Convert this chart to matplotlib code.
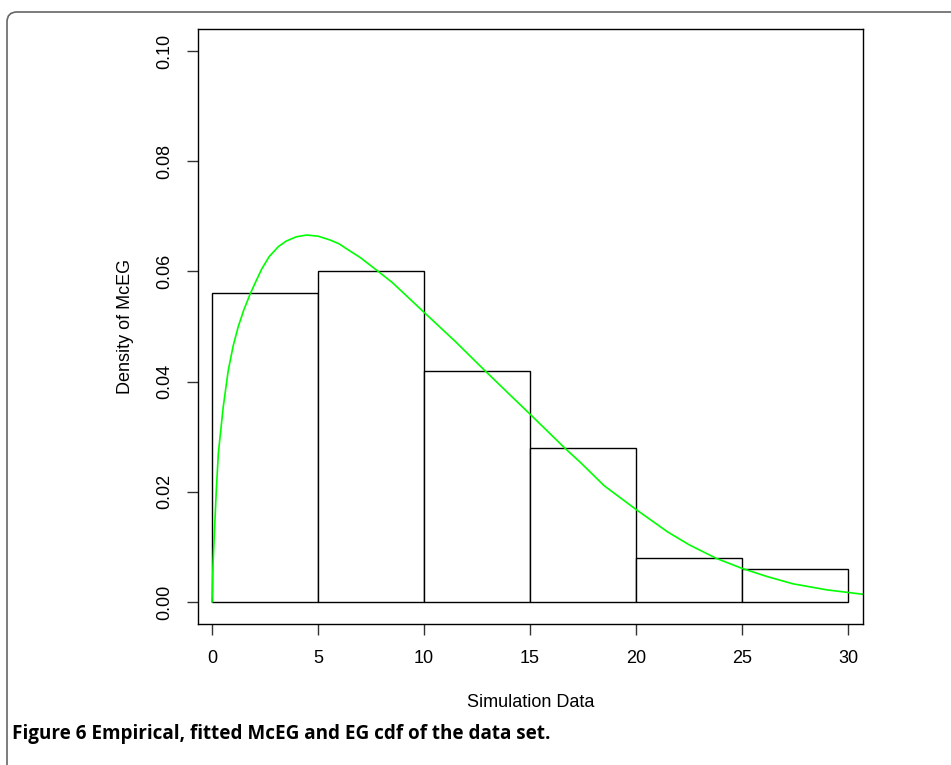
import numpy as np
import matplotlib
matplotlib.use("Agg")
import matplotlib.pyplot as plt
import matplotlib.patches as mpatches
import matplotlib.transforms as mtransforms

# histogram of the simulated data (density scale)
bin_edges = [0, 5, 10, 15, 20, 25, 30]
densities = [0.056, 0.060, 0.042, 0.028, 0.008, 0.006]

# fitted McEG density
curve_x = [0.0, 0.01, 0.05, 0.14, 0.2, 0.30, 0.53, 0.77, 1.0, 1.24, 1.5, 1.79,
           2.0, 2.34, 2.7, 3.13, 3.5, 3.8, 4.0, 4.46, 5.0, 5.57, 6.0, 6.27, 7.0,
           7.84, 8.5, 9.97, 11.5, 12.87, 14.0, 15.0, 16.65, 17.36, 18.5, 20.0,
           21.5, 22.5, 23.8, 25.0, 26.2, 27.4, 29.0, 30.7]
curve_y = [0.0, 0.0013, 0.0070, 0.0149, 0.0200, 0.0270, 0.0354, 0.0421, 0.0465,
           0.0500, 0.0530, 0.0558, 0.0576, 0.0604, 0.0627, 0.0645, 0.0655, 0.0660,
           0.0663, 0.0666, 0.0664, 0.0657, 0.0650, 0.0643, 0.0625, 0.0600, 0.0580,
           0.0527, 0.0472, 0.0420, 0.0378, 0.0341, 0.0279, 0.0254, 0.0211, 0.0168,
           0.0127, 0.0104, 0.0079, 0.0061, 0.0046, 0.0033, 0.0022, 0.0014]

x_ticks = [0, 5, 10, 15, 20, 25, 30]
y_ticks = [0.00, 0.02, 0.04, 0.06, 0.08, 0.10]
y_ticklabels = ["0.00", "0.02", "0.04", "0.06", "0.08", "0.10"]

plt.rcParams['font.family'] = ['Liberation Sans', 'DejaVu Sans']

fig = plt.figure(figsize=(9.51, 7.65), dpi=100)
ax = fig.add_axes([198 / 951, 1 - 624 / 765, 665 / 951, 595 / 765])

widths = np.diff(bin_edges)
ax.bar(bin_edges[:-1], densities, width=widths, align='edge',
       facecolor='white', edgecolor='black', linewidth=1.0)
ax.plot(curve_x, curve_y, color='#00ff00', linewidth=1.2)

ax.set_xlim(-0.66, 30.71)
ax.set_ylim(-0.004, 0.104)

ax.set_xticks(x_ticks)
ax.set_yticks(y_ticks, y_ticklabels)
ax.tick_params(axis='both', labelsize=13, length=8, width=1.0, color='#333333')
ax.tick_params(axis='x', pad=10.5)
ax.tick_params(axis='y', pad=10, labelrotation=90)
for lab in ax.get_yticklabels():
    lab.set_va('center')

for sp in ax.spines.values():
    sp.set_linewidth(1.0)

ax.set_xlabel("Simulation Data", fontsize=13, labelpad=20)
ax.set_ylabel("Density of McEG", fontsize=13, labelpad=16)

# caption
fig.text(12 / 951, 1 - 739 / 765, "Figure 6 Empirical, fitted McEG and EG cdf of the data set.",
         fontsize=13.6, fontweight='bold', family=['Open Sans', 'DejaVu Sans'],
         va='baseline', ha='left')

# rounded frame (only left and top edges visible)
frame = mpatches.FancyBboxPatch((7, -30), 1100, 765 - 12 + 30,
                                boxstyle="round,pad=0,rounding_size=10",
                                facecolor='none', edgecolor='#666666', linewidth=1.2,
                                transform=mtransforms.IdentityTransform())
fig.add_artist(frame)

fig.savefig("out.png", dpi=100)
